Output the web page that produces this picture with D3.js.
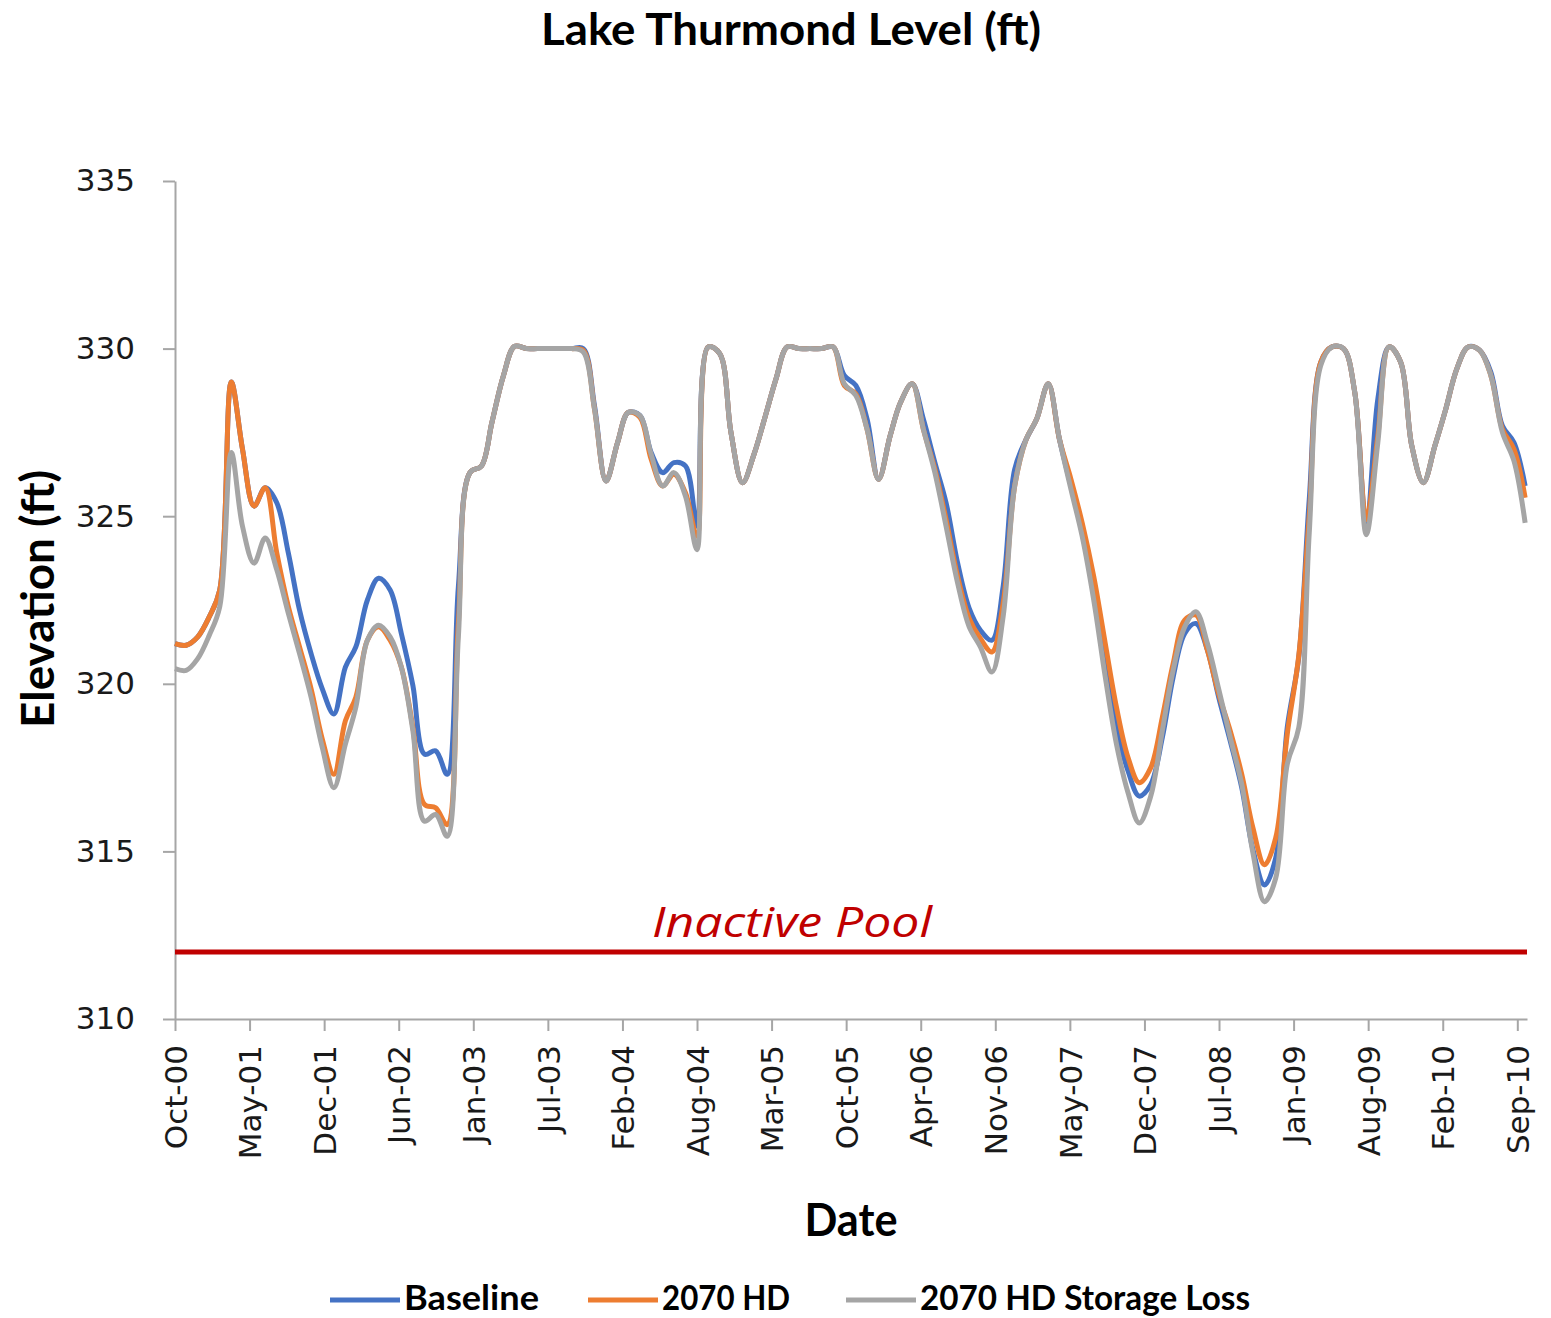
<!DOCTYPE html>
<html>
<head>
<meta charset="utf-8">
<title>Lake Thurmond Level (ft)</title>
<script src="https://cdn.jsdelivr.net/npm/d3@7"></script>
<style>
    body { margin: 0; background: #fff; }
    svg { display: block; }
    .axis .tick text { font-family: 'DejaVu Sans', sans-serif; fill: #1a1a1a; }
    .axis path, .axis line { stroke: #a6a6a6; stroke-width: 2; }
    .bold { font-family: Lato, 'Open Sans', sans-serif; font-weight: 700; fill: #000; }
</style>
</head>
<body>
<div id="chart"></div>
<script>
// month-end lake elevations (ft), Oct 2000 .. Sep 2010
const baseline = [
    321.2, 321.15, 321.4, 322.0, 322.8, 329.0, 327.0, 325.3, 325.85, 325.4,
    323.9, 322.2, 320.9, 319.85, 319.1, 320.5, 321.1, 322.5, 323.15, 322.8,
    321.5, 319.95, 317.9, 318.0, 317.3, 322.9, 326.3, 326.5, 327.8, 329.2,
    330.07, 330.0, 330.0, 330.0, 330.0, 330.0, 330.0, 328.3, 326.05, 327.2,
    328.1, 328.0, 326.9, 326.3, 326.6, 326.5, 324.7, 330.05, 329.85, 327.5,
    326.0, 326.85, 327.9, 329.1, 330.05, 330.0, 330.0, 330.0, 330.05, 329.2,
    328.9, 327.9, 326.1, 327.4, 328.4, 328.95, 327.9, 326.6, 325.4, 323.6,
    322.25, 321.6, 321.3, 322.9, 326.4, 327.3, 327.9, 328.95, 327.3, 325.9,
    324.6, 322.8, 320.6, 318.7, 317.4, 316.65, 317.0, 318.4, 320.2, 321.5,
    321.8, 321.0, 319.6, 318.3, 316.9, 315.05, 314.0, 314.8, 318.7, 320.8,
    325.5, 329.6, 330.05, 330.0, 328.7, 324.7, 328.5, 330.05, 329.6, 327.1,
    326.0, 327.1, 328.15, 329.4, 330.05, 329.95, 329.3, 327.7, 327.2, 325.9,
];
const hd2070 = [
    321.2, 321.15, 321.4, 322.0, 322.8, 329.0, 327.0, 325.3, 325.85, 323.9,
    322.3, 321.1, 319.85, 318.35, 317.3, 318.9, 319.6, 321.3, 321.7, 321.3,
    320.5, 318.7, 316.4, 316.3, 315.8, 321.8, 326.3, 326.5, 327.8, 329.2,
    330.07, 330.0, 330.0, 330.0, 330.0, 330.0, 329.95, 328.2, 326.05, 327.2,
    328.1, 327.95, 326.7, 325.9, 326.25, 325.7, 324.4, 330.05, 329.85, 327.5,
    326.0, 326.85, 327.9, 329.1, 330.05, 330.0, 330.0, 330.0, 330.05, 328.9,
    328.65, 327.6, 326.1, 327.4, 328.4, 328.95, 327.6, 326.4, 324.9, 323.2,
    321.95, 321.35, 320.95, 322.4, 325.9, 327.3, 327.9, 328.95, 327.3, 326.1,
    324.8, 323.2, 321.2, 319.3, 317.8, 317.05, 317.5, 319.0, 320.6, 321.9,
    322.05, 321.0, 319.7, 318.6, 317.3, 315.7, 314.6, 315.4, 318.5, 320.85,
    325.0, 329.6, 330.05, 330.0, 328.7, 324.9, 327.4, 330.05, 329.6, 327.1,
    326.0, 327.1, 328.15, 329.4, 330.05, 329.95, 329.2, 327.6, 327.0, 325.55,
];
const storageLoss = [
    320.45, 320.4, 320.75, 321.45, 322.3, 326.9, 324.7, 323.6, 324.35, 323.4,
    322.1, 320.9, 319.6, 318.1, 316.9, 318.2, 319.3, 321.3, 321.75, 321.4,
    320.5, 318.6, 315.9, 316.1, 315.45, 321.4, 326.3, 326.5, 327.8, 329.2,
    330.07, 330.0, 330.0, 330.0, 330.0, 330.0, 329.9, 328.2, 326.05, 327.2,
    328.1, 328.0, 326.85, 325.9, 326.3, 325.6, 324.0, 330.05, 329.85, 327.5,
    326.0, 326.85, 327.9, 329.1, 330.05, 330.0, 330.0, 330.0, 330.05, 328.95,
    328.6, 327.6, 326.1, 327.4, 328.4, 328.95, 327.6, 326.3, 324.7, 323.0,
    321.7, 321.1, 320.35, 322.0, 325.9, 327.3, 327.9, 328.95, 327.3, 325.8,
    324.4, 322.5, 320.2, 318.2, 316.75, 315.85, 316.65, 318.6, 320.4, 321.7,
    322.15, 321.2, 319.85, 318.4, 317.0, 314.95, 313.5, 314.2, 317.6, 318.7,
    324.5, 329.5, 330.05, 330.0, 328.7, 324.45, 327.2, 330.05, 329.6, 327.1,
    326.0, 327.1, 328.15, 329.4, 330.05, 329.95, 329.2, 327.5, 326.65, 324.8,
];
const seriesNames = ['Baseline', '2070 HD', '2070 HD Storage Loss'];
const seriesColors = ['#4472c4', '#ed7d31', '#a5a5a5'];
const xTickLabels = [
    'Oct-00', 'May-01', 'Dec-01', 'Jun-02', 'Jan-03', 'Jul-03', 'Feb-04',
    'Aug-04', 'Mar-05', 'Oct-05', 'Apr-06', 'Nov-06', 'May-07', 'Dec-07',
    'Jul-08', 'Jan-09', 'Aug-09', 'Feb-10', 'Sep-10',
];
const yTicks = [310, 315, 320, 325, 330, 335];
const inactivePool = 312;

const startDate = new Date(2000, 9, 31);
const endDate = new Date(2010, 9, 5);
const tickStepDays = 200; // excel put a label every 200 days

const outerWidth = 1551;
const outerHeight = 1318;
const margin = {
    top: 181, right: 24, bottom: 299, left: 175,
};
const width = outerWidth - margin.left - margin.right;
const height = outerHeight - margin.top - margin.bottom;

// month-end dates for every value
const months = baseline.map((d, i) => new Date(2000, 10 + i, 0));
const xTickDates = xTickLabels.map((d, i) => d3.timeDay.offset(startDate, i * tickStepDays));

const svgRoot = d3.select('#chart').append('svg')
    .attr('width', outerWidth)
    .attr('height', outerHeight);

const g = svgRoot.append('g')
    .attr('transform', `translate(${[margin.left, margin.top]})`);

const x = d3.scaleTime()
    .domain([startDate, endDate])
    .range([0, width]);
const y = d3.scaleLinear()
    .domain([310, 335])
    .range([height, 0]);

// axes
const yAxisG = g.append('g')
    .attr('class', 'axis y')
    .call(d3.axisLeft(y)
        .tickValues(yTicks)
        .tickSize(12)
        .tickPadding(28)
        .tickSizeOuter(0));
yAxisG.selectAll('.tick text')
    .style('font-size', '31px');

const xAxisG = g.append('g')
    .attr('class', 'axis x')
    .attr('transform', `translate(0,${height})`)
    .call(d3.axisBottom(x)
        .tickValues(xTickDates)
        .tickSize(12)
        .tickSizeOuter(0)
        .tickFormat((d, i) => xTickLabels[i]));
xAxisG.selectAll('.tick text')
    .style('font-size', '31px')
    .attr('transform', 'rotate(-90)')
    .attr('text-anchor', 'end')
    .attr('x', -26)
    .attr('y', 0)
    .attr('dy', '0.36em');

// inactive pool marker
g.append('line')
    .attr('x1', 0)
    .attr('x2', width)
    .attr('y1', y(inactivePool))
    .attr('y2', y(inactivePool))
    .attr('stroke', '#c00000')
    .attr('stroke-width', 5);
g.append('text')
    .attr('x', 477)
    .attr('y', y(inactivePool) - 15)
    .attr('textLength', 280)
    .attr('lengthAdjust', 'spacingAndGlyphs')
    .style('font-family', "'Open Sans', sans-serif")
    .style('font-style', 'italic')
    .style('font-size', '42px')
    .style('fill', '#c00000')
    .text('Inactive Pool');

// series lines, gray drawn last like in the original
const line = d3.line()
    .x((d, i) => x(months[i]))
    .y((d) => y(d))
    .curve(d3.curveCatmullRom.alpha(0.5));

const series = [baseline, hd2070, storageLoss];
g.append('g')
    .selectAll('path')
    .data(series)
    .join('path')
    .attr('fill', 'none')
    .attr('stroke', (d, i) => seriesColors[i])
    .attr('stroke-width', 5)
    .attr('stroke-linejoin', 'round')
    .attr('d', line);

// titles
svgRoot.append('text')
    .attr('class', 'bold')
    .attr('x', 791)
    .attr('y', 45)
    .attr('text-anchor', 'middle')
    .attr('textLength', 500)
    .attr('lengthAdjust', 'spacingAndGlyphs')
    .style('font-size', '43px')
    .text('Lake Thurmond Level (ft)');

svgRoot.append('text')
    .attr('class', 'bold')
    .attr('transform', 'translate(54,599) rotate(-90)')
    .attr('text-anchor', 'middle')
    .attr('textLength', 258)
    .attr('lengthAdjust', 'spacingAndGlyphs')
    .style('font-size', '46px')
    .text('Elevation (ft)');

svgRoot.append('text')
    .attr('class', 'bold')
    .attr('x', 851)
    .attr('y', 1236)
    .attr('text-anchor', 'middle')
    .attr('textLength', 93)
    .attr('lengthAdjust', 'spacingAndGlyphs')
    .style('font-size', '46px')
    .text('Date');

// legend
const legendX = [330, 588, 846];
const legendTextLen = [135, 128, 330];
const legend = svgRoot.append('g')
    .selectAll('g')
    .data(seriesNames)
    .join('g')
    .attr('transform', (d, i) => `translate(${legendX[i]},1300)`);
legend.append('line')
    .attr('x1', 0)
    .attr('x2', 70)
    .attr('stroke', (d, i) => seriesColors[i])
    .attr('stroke-width', 5);
legend.append('text')
    .attr('class', 'bold')
    .attr('x', 74)
    .attr('y', 10)
    .attr('textLength', (d, i) => legendTextLen[i])
    .attr('lengthAdjust', 'spacingAndGlyphs')
    .style('font-size', '35px')
    .text((d) => d);
</script>
</body>
</html>
